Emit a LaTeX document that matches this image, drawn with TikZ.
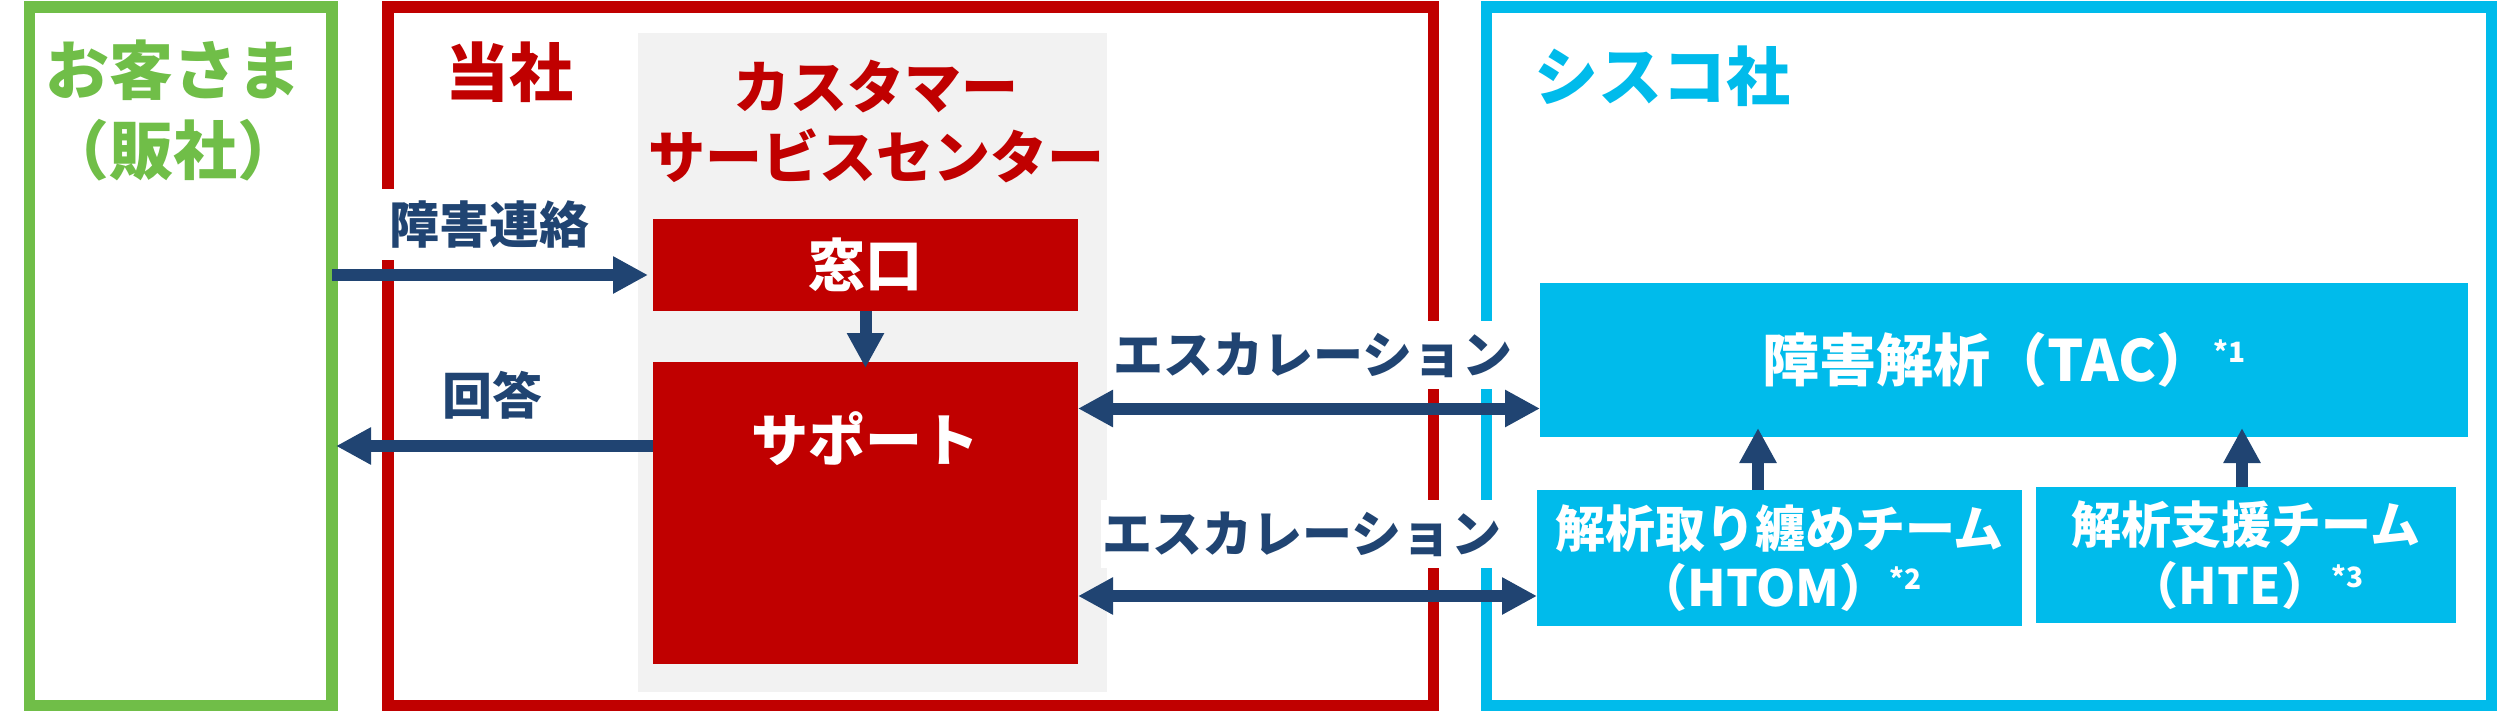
\documentclass[tikz,border=0pt]{standalone}
\usepackage{fontspec}
\setmainfont{Noto Sans CJK JP}
\usetikzlibrary{arrows.meta, positioning}
\definecolor{custgreen}{RGB}{112,190,72}
\definecolor{ownred}{RGB}{192,0,0}
\definecolor{ciscocyan}{RGB}{0,187,235}
\definecolor{flownavy}{RGB}{32,68,114}
\definecolor{panelgray}{RGB}{242,242,242}
\newcommand\noteref[1]{\raisebox{0.33em}{\fontsize{28}{28}\selectfont *#1}}
\tikzset{
    org frame/.style = {rectangle, draw, line width=11.5pt, outer sep=0pt, inner sep=0pt, anchor=north west},
    org title/.style = {font=\fontsize{64}{80}\selectfont\bfseries, align=center, inner sep=0pt},
    unit box/.style = {rectangle, fill=ownred, outer sep=0pt, inner sep=0pt, anchor=north west, minimum width=425pt},
    team box/.style = {rectangle, fill=ciscocyan, outer sep=0pt, inner sep=0pt, anchor=north west, text=white, align=center},
    box text/.style = {text=white, font=\fontsize{57}{60}\selectfont\bfseries, inner sep=0pt},
    flow label/.style = {text=flownavy, fill=white, font=\fontsize{50}{60}\selectfont\bfseries, inner xsep=2pt, inner ysep=12pt},
    flow/.style = {draw=flownavy, line width=12pt, -{Triangle[length=35pt, width=35pt]}},
    both flow/.style = {flow, {Triangle[length=35pt, width=35pt]}-{Triangle[length=35pt, width=35pt]}}
}
\begin{document}
\begin{tikzpicture}[x=1pt, y=-1pt]
    \useasboundingbox (0,0) rectangle (2497,712);
    % three parties
    \node[org frame, draw=custgreen, minimum width=302.5pt, minimum height=698.5pt] (cust) at (29.5,6.75) {};
    \node[org frame, draw=ownred, minimum width=1045.5pt, minimum height=698.5pt] (own) at (388,6.75) {};
    \node[org frame, draw=ciscocyan, minimum width=1004.75pt, minimum height=698.5pt] (cisco) at (1486.5,6.75) {};
    \node[org title, text=custgreen, text width=300pt] (custtitle) at (173,110) {お客さま\\（販社）};
    \node[org title, text=ownred] (owntitle) at (509.5,72) {当社};
    \node[org title, text=ciscocyan] (ciscotitle) at (1662,76) {シスコ社};

    % customer service center
    \node[rectangle, fill=panelgray, anchor=north west, minimum width=469pt, minimum height=659pt] (csc) at (638,33) {};
    \node[org title, text=ownred, font=\fontsize{57}{70}\selectfont\bfseries] (csctitle) at (876,121) {カスタマー\\サービスセンター};
    \node[unit box, minimum height=92pt, box text] (madoguchi) at (653,219) {窓口};
    \node[unit box, minimum height=302pt] (support) at (653,362) {};
    \node[box text] (supporttext) at (support.center |- 0,439) {サポート};

    % cisco teams
    \node[team box, minimum width=928pt, minimum height=154pt, font=\fontsize{57}{60}\selectfont\bfseries] (tac) at (1540,283) {障害解析（TAC）\noteref{1}};
    \node[team box, minimum width=485pt, minimum height=136pt, font=\fontsize{50}{59}\selectfont\bfseries] (htom) at (1537,490) {解析取り纏めチーム\\（HTOM）\noteref{2}};
    \node[team box, minimum width=420pt, minimum height=136pt, font=\fontsize{50}{61}\selectfont\bfseries] (hte) at (2036,487) {解析支援チーム\\（HTE）\noteref{3}};

    % labels
    \node[flow label, inner xsep=10pt] (report) at (489.5,224.5) {障害連絡};
    \node[flow label] (answer) at (492,395) {回答};
    \node[flow label] (esc1) at (1312.5,355) {エスカレーション};
    \node[flow label] (esc2) at (1302,534) {エスカレーション};

    % connectors
    \coordinate (in1) at (648,275);
    \coordinate (out1) at (336,446);
    \coordinate (up1) at (1758,428);
    \coordinate (up2) at (2242,428);
    \draw[flow] (cust.east |- in1) -- (in1);
    \draw[flow] (support.west |- out1) -- (out1);
    \draw[flow] (madoguchi.south) -- ([yshift=-6pt]support.north);
    \draw[both flow] (support.east |- 0,408.5) -- (tac.west |- 0,408.5);
    \draw[both flow] (support.east |- 0,596) -- (htom.west |- 0,596);
    \draw[flow] (htom.north -| up1) -- (up1);
    \draw[flow] (hte.north -| up2) -- (up2);
\end{tikzpicture}
\end{document}
